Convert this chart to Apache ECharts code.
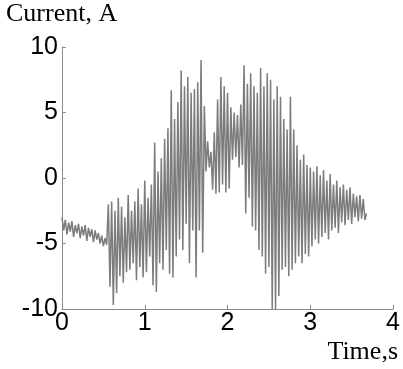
<!DOCTYPE html>
<html>
<head>
<meta charset="utf-8">
<script src="https://cdn.jsdelivr.net/npm/echarts@6/dist/echarts.min.js"></script>
<style>html,body{margin:0;padding:0;background:#fff}#c{width:403px;height:369px}</style>
</head>
<body>
<div id="c"></div>
<script>
// Sample step 0.02 s, starting at t = 0
const timeStep = 0.02;
const currentValues = [
  -3.0, -4.0, -3.2, -4.3, -3.4, -4.1, -3.3, -4.5, -3.6, -4.2,
  -3.5, -4.6, -3.7, -4.4, -3.6, -4.8, -3.8, -4.5, -3.9, -4.9,
  -4.0, -4.7, -4.2, -5.0, -4.4, -5.2, -4.6, -5.1, -2.0, -8.3,
  -1.8, -9.7, -2.5, -8.8, -1.5, -7.5, -2.2, -8.0, -3.0, -7.2,
  -1.3, -7.0, -2.5, -6.5, -1.8, -7.8, -0.8, -6.8, -2.0, -7.6,
  -0.2, -7.2, -1.5, -6.0, -0.5, -8.2, 2.7, -8.7, 0.5, -6.5,
  1.5, -7.0, 3.0, -5.5, 3.8, -7.3, 6.7, -7.6, 4.5, -6.0,
  5.8, -4.7, 8.2, -5.5, 7.0, -3.5, 7.7, -6.5, 6.5, -4.0,
  6.8, -7.6, 7.3, -4.0, 9.0, -5.7, 5.5, 0.5, 2.8, 0.8,
  2.0, -0.9, 3.5, -1.2, 6.0, -1.1, 7.7, -0.5, 7.0, -1.1,
  6.5, -0.8, 5.4, 1.4, 5.0, 1.6, 4.8, 0.8, 5.6, 1.0,
  8.6, -2.7, 7.2, -1.5, 8.0, -3.7, 7.0, -4.0, 6.5, -5.5,
  8.4, -6.0, 7.0, -7.3, 8.0, -6.8, 7.5, -10.0, 6.0, -10.0,
  7.0, -9.0, 6.2, -7.0, 4.5, -6.8, 3.7, -7.5, 6.2, -7.0,
  3.7, -6.5, 2.5, -6.0, 1.4, -6.5, 1.8, -5.8, 1.0, -6.0,
  0.8, -5.2, 0.5, -4.7, 0.9, -5.0, 0.2, -4.5, 0.6, -4.2,
  -0.2, -4.7, 0.3, -4.0, -0.5, -3.8, -0.2, -4.2, -0.7, -3.4,
  -0.5, -3.6, -0.9, -3.2, -0.7, -3.5, -1.2, -3.0, -1.4, -3.3,
  -1.3, -3.1, -1.6, -3.2, -2.7
];
const xTicks = [0, 1, 2, 3, 4];
const yTicks = [-10, -5, 0, 5, 10];

const seriesData = currentValues.map((v, i) => [+(i * timeStep).toFixed(2), v]);

const chart = echarts.init(document.getElementById('c'), null, {renderer: 'canvas'});
const axisColor = '#8c8c8c';
chart.setOption({
  animation: false,
  backgroundColor: '#ffffff',
  grid: {left: 62, top: 47, right: 7, bottom: 60, containLabel: false},
  xAxis: {
    type: 'value', min: xTicks[0], max: xTicks[xTicks.length - 1], interval: 1,
    axisLine: {show: true, onZero: false, lineStyle: {color: axisColor, width: 1}},
    axisTick: {show: true, inside: true, length: 4, lineStyle: {color: axisColor}},
    splitLine: {show: false},
    axisLabel: {color: '#000', fontFamily: 'Liberation Sans, Arial, sans-serif', fontSize: 25, margin: 2}
  },
  yAxis: {
    type: 'value', min: yTicks[0], max: yTicks[yTicks.length - 1], interval: 5,
    axisLine: {show: true, onZero: false, lineStyle: {color: axisColor, width: 1}},
    axisTick: {show: true, inside: true, length: 4, lineStyle: {color: axisColor}},
    splitLine: {show: false},
    axisLabel: {color: '#000', fontFamily: 'Liberation Sans, Arial, sans-serif', fontSize: 25, margin: 4}
  },
  graphic: [
    {type: 'text', left: 6, top: 1, style: {text: 'Current, A', font: '26px "Liberation Serif", "Times New Roman", serif', fill: '#000'}},
    {type: 'text', right: 5, top: 339, style: {text: 'Time,s', font: '26px "Liberation Serif", "Times New Roman", serif', fill: '#000'}}
  ],
  series: [{
    type: 'line', data: seriesData, showSymbol: false, symbol: 'none',
    lineStyle: {color: '#7c7c7c', width: 1.5}, clip: false
  }]
});
</script>
</body>
</html>
